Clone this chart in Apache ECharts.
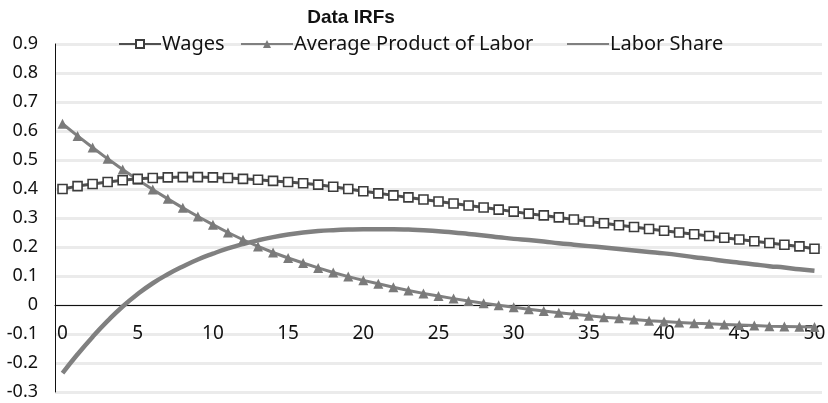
<!DOCTYPE html>
<html>
<head>
<meta charset="utf-8">
<script src="https://cdn.jsdelivr.net/npm/echarts@6/dist/echarts.min.js"></script>
<style>html,body{margin:0;padding:0;background:#fff;}#c{width:828px;height:403px;}</style>
</head>
<body>
<div id="c"></div>
<script>
const periods = Array.from({length: 51}, (_, i) => String(i));
const wages = [0.400,0.410,0.417,0.424,0.430,0.435,0.438,0.440,0.441,0.441,0.440,0.438,0.435,0.432,0.428,0.424,0.420,0.415,0.408,0.400,0.392,0.385,0.378,0.371,0.364,0.357,0.350,0.343,0.336,0.329,0.322,0.315,0.309,0.302,0.295,0.288,0.282,0.275,0.269,0.262,0.256,0.250,0.244,0.238,0.232,0.226,0.220,0.214,0.208,0.202,0.194];
const avgProduct = [0.625,0.583,0.543,0.504,0.467,0.432,0.398,0.366,0.335,0.305,0.277,0.250,0.225,0.202,0.181,0.162,0.145,0.128,0.112,0.098,0.085,0.073,0.061,0.050,0.040,0.031,0.022,0.014,0.006,-0.001,-0.008,-0.015,-0.021,-0.027,-0.032,-0.037,-0.042,-0.046,-0.050,-0.054,-0.057,-0.060,-0.063,-0.065,-0.067,-0.069,-0.071,-0.073,-0.074,-0.075,-0.076];
const laborShare = [-0.235,-0.170,-0.110,-0.055,-0.005,0.038,0.075,0.106,0.133,0.157,0.177,0.195,0.210,0.223,0.234,0.243,0.250,0.255,0.258,0.260,0.261,0.261,0.261,0.260,0.258,0.254,0.250,0.245,0.240,0.234,0.228,0.224,0.219,0.213,0.208,0.203,0.198,0.193,0.188,0.183,0.178,0.172,0.165,0.159,0.152,0.146,0.140,0.134,0.129,0.123,0.118];
const yTicks = [-0.3,-0.2,-0.1,0,0.1,0.2,0.3,0.4,0.5,0.6,0.7,0.8,0.9];

const FONT = '"Noto Sans", sans-serif';
const legendText = {fontFamily: FONT, fontSize: 20, color: '#111', padding: [0,0,0,-4]};
const chart = echarts.init(document.getElementById('c'), null, {renderer: 'canvas'});
chart.setOption({
  animation: false,
  backgroundColor: '#fff',
  textStyle: {fontFamily: FONT},
  title: {
    text: 'Data IRFs', left: 346, top: 3, textAlign: 'center',
    textStyle: {fontFamily: '"Liberation Sans", Arial, sans-serif', fontWeight: 'bold', fontSize: 19, color: '#111'}
  },
  legend: [
    {left: 118, top: 34, padding: 0, itemWidth: 42, itemHeight: 10, textStyle: legendText,
     data: ['Wages']},
    {left: 240, top: 34, padding: 0, itemWidth: 52, itemHeight: 10, textStyle: legendText,
     data: ['Average Product of Labor']},
    {left: 566, top: 34, padding: 0, itemWidth: 42, itemHeight: 10, textStyle: legendText,
     data: [{name: 'Labor Share', itemStyle: {opacity: 0}}]}
  ],
  grid: {left: 55, right: 6, top: 44, bottom: 11, containLabel: false, outerBoundsMode: 'none'},
  xAxis: {
    type: 'category', data: periods, boundaryGap: true,
    axisLine: {onZero: true, lineStyle: {color: '#111', width: 1}},
    axisTick: {show: false},
    axisLabel: {interval: 4, margin: -68, fontSize: 19, color: '#111', fontFamily: FONT},
    splitLine: {show: false}
  },
  yAxis: {
    type: 'value', min: -0.3, max: 0.9, interval: 0.1,
    axisLine: {show: true, lineStyle: {color: '#111', width: 1}},
    axisTick: {show: false},
    axisLabel: {margin: 17, fontSize: 18, color: '#111', fontFamily: FONT,
      formatter: v => { const r = Math.round(v * 10) / 10; return yTicks.includes(r) ? String(r) : ''; }},
    splitLine: {show: true, lineStyle: {color: '#ebebeb', width: 3}}
  },
  series: [
    {
      name: 'Wages', type: 'line', data: wages, symbol: 'rect', symbolSize: 9,
      lineStyle: {color: '#505050', width: 3},
      itemStyle: {color: '#fff', borderColor: '#3c3c3c', borderWidth: 1.6},
      z: 3
    },
    {
      name: 'Average Product of Labor', type: 'line', data: avgProduct, symbol: 'triangle', symbolSize: 10,
      lineStyle: {color: '#808080', width: 3},
      itemStyle: {color: '#7a7a7a'},
      z: 2
    },
    {
      name: 'Labor Share', type: 'line', data: laborShare, symbol: 'none', smooth: true,
      lineStyle: {color: '#808080', width: 4.5},
      itemStyle: {color: '#808080'},
      z: 1
    }
  ]
});
</script>
</body>
</html>
